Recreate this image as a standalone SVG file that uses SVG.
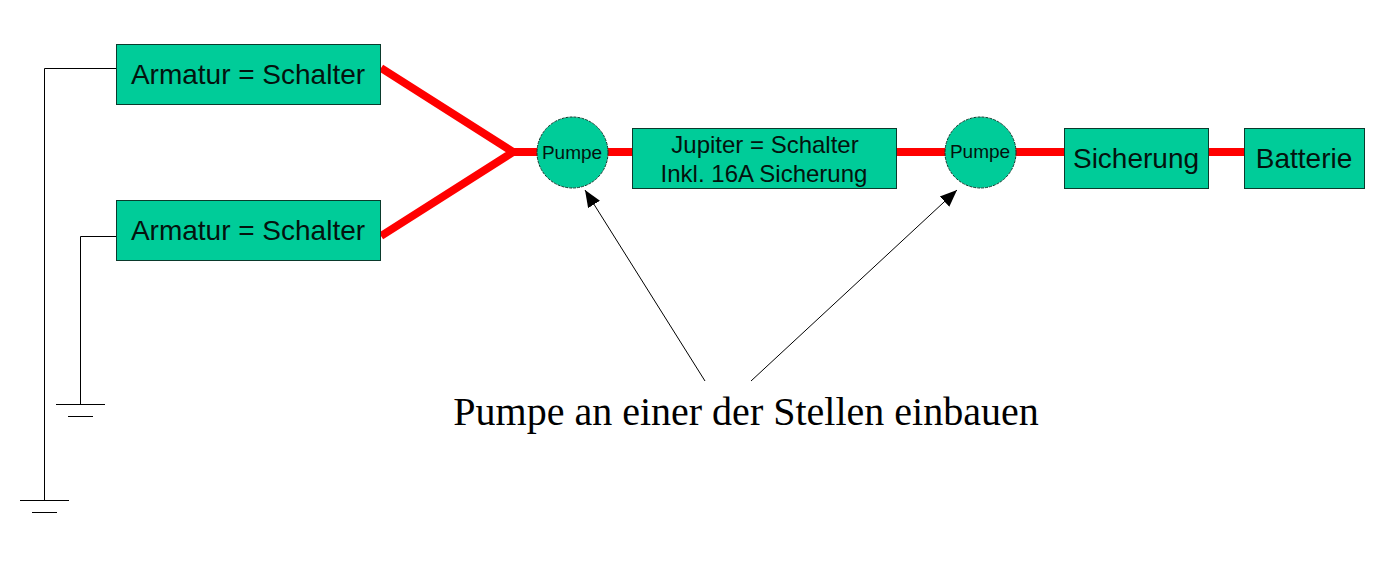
<svg xmlns="http://www.w3.org/2000/svg" width="1374" height="566" viewBox="0 0 1374 566">
<style>
.n{fill:#00cc99;stroke:#0a3a2c;stroke-width:1}
.c{fill:#00cc99;stroke:#0a3a2c;stroke-width:1;stroke-dasharray:3 1}
.t{font-family:"Liberation Sans",Arial,sans-serif;fill:#04130e;text-anchor:middle}
.red{stroke:#ff0000;stroke-width:8;fill:none}
.blk{stroke:#000;stroke-width:1;fill:none}
</style>
<defs><marker id="a" markerUnits="userSpaceOnUse" markerWidth="18" markerHeight="16" refX="17" refY="8" orient="auto"><path d="M0 1L17 8L0 15Z" fill="#000"/></marker></defs>
<rect width="1374" height="566" fill="#fff"/>
<g id="connectors">
<path class="red" d="M381 68L513 152L381 236M513 152H1245"/>
<path class="blk" d="M116.500 68.500H44.500V500.500M20 500.500H69M32 512.500H57M116.500 236.500H80.500V404.500M56 404.500H105M68 416.500H93"/>
<path class="blk" d="M705 381L585 190" marker-end="url(#a)"/>
<path class="blk" d="M751 381L957 190" marker-end="url(#a)"/>
</g>
<g id="armatur1"><rect class="n" x="116.500" y="44.500" width="264" height="60"/><text class="t" x="248" y="84" font-size="28">Armatur = Schalter</text></g>
<g id="armatur2"><rect class="n" x="116.500" y="200.500" width="264" height="60"/><text class="t" x="248" y="240" font-size="28">Armatur = Schalter</text></g>
<g id="pumpe1"><circle class="c" cx="572.500" cy="152.500" r="35.500"/><text class="t" x="572" y="159" font-size="19">Pumpe</text></g>
<g id="jupiter"><rect class="n" x="632.500" y="128.500" width="264" height="60"/><text class="t" x="765" y="153" font-size="24">Jupiter = Schalter</text><text class="t" x="764" y="182" font-size="24">Inkl. 16A Sicherung</text></g>
<g id="pumpe2"><circle class="c" cx="980.500" cy="152.500" r="35.500"/><text class="t" x="980" y="158" font-size="19">Pumpe</text></g>
<g id="sicherung"><rect class="n" x="1064.500" y="128.500" width="144" height="60"/><text class="t" x="1136" y="168" font-size="28">Sicherung</text></g>
<g id="batterie"><rect class="n" x="1244.500" y="128.500" width="120" height="60"/><text class="t" x="1304" y="168" font-size="28">Batterie</text></g>
<text id="caption" x="746" y="425" font-family="'Liberation Serif','Times New Roman',serif" font-size="40" text-anchor="middle" fill="#000">Pumpe an einer der Stellen einbauen</text>
</svg>
